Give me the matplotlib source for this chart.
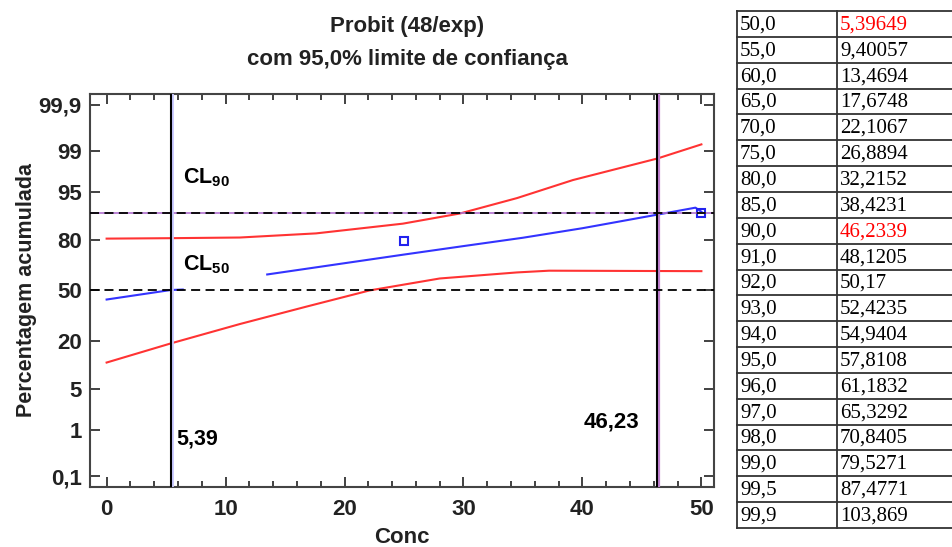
import math
import numpy as np
import matplotlib
matplotlib.use("Agg")
import matplotlib.pyplot as plt

plt.rcParams['font.family'] = ['Liberation Sans', 'DejaVu Sans']
plt.rcParams['mathtext.fontset'] = 'custom'
plt.rcParams['mathtext.rm'] = 'Liberation Sans:bold'
plt.rcParams['mathtext.bf'] = 'Liberation Sans:bold'

# fitted probit line (shown in two pieces, as in the source figure)
fit_x1 = [0, 5.4, 6.4]
fit_y1 = [44.0, 50.3, 50.6]
fit_x2 = [13.5, 20, 25, 30, 35, 40, 46.2, 49.5, 50]
fit_y2 = [60.5, 67.5, 72.5, 77.0, 81.0, 85.0, 89.6, 91.6, 90.5]

# observed points
obs_x = [25, 50]
obs_y = [79.7, 90.0]

# 95% confidence limits
upper_x = [0, 5.4, 11.2, 17.6, 24.9, 29.7, 34.5, 39.2, 46.3, 50]
upper_y = [80.6, 80.8, 81.1, 82.9, 86.7, 90.0, 93.8, 96.7, 98.6, 99.25]
lower_x = [0, 5.4, 11.2, 16.8, 22.1, 28.0, 34.5, 37.2, 50]
lower_y = [11.5, 18.9, 28.8, 39.4, 50.0, 57.9, 61.8, 62.9, 62.6]

cl50 = 5.39
cl90 = 46.23

y_ticks = [0.1, 1, 5, 20, 50, 80, 95, 99, 99.9]
y_labels = ['0,1', '1', '5', '20', '50', '80', '95', '99', '99,9']

tab_p = ['50,0', '55,0', '60,0', '65,0', '70,0', '75,0', '80,0', '85,0', '90,0', '91,0',
         '92,0', '93,0', '94,0', '95,0', '96,0', '97,0', '98,0', '99,0', '99,5', '99,9']
tab_c = ['5,39649', '9,40057', '13,4694', '17,6748', '22,1067', '26,8894', '32,2152', '38,4231',
         '46,2339', '48,1205', '50,17', '52,4235', '54,9404', '57,8108', '61,1832', '65,3292',
         '70,8405', '79,5271', '87,4771', '103,869']
tab_red = [0, 8]


def _ppf(p):
    # Acklam's approximation of the inverse normal cdf
    a = [-3.969683028665376e+01, 2.209460984245205e+02, -2.759285104469687e+02,
         1.383577518672690e+02, -3.066479806614716e+01, 2.506628277459239e+00]
    b = [-5.447609879822406e+01, 1.615858368580409e+02, -1.556989798598866e+02,
         6.680131188771972e+01, -1.328068155288572e+01]
    c = [-7.784894002430293e-03, -3.223964580411365e-01, -2.400758277161838e+00,
         -2.549671010173469e+00, 4.374664141464968e+00, 2.938163982698783e+00]
    d = [7.784695709041462e-03, 3.224671290700398e-01, 2.445134137142996e+00,
         3.754408661907416e+00]
    lo = 0.02425
    if p < lo:
        q = math.sqrt(-2 * math.log(p))
        return (((((c[0]*q+c[1])*q+c[2])*q+c[3])*q+c[4])*q+c[5]) / \
               ((((d[0]*q+d[1])*q+d[2])*q+d[3])*q+1)
    if p > 1 - lo:
        q = math.sqrt(-2 * math.log(1 - p))
        return -(((((c[0]*q+c[1])*q+c[2])*q+c[3])*q+c[4])*q+c[5]) / \
                ((((d[0]*q+d[1])*q+d[2])*q+d[3])*q+1)
    q = p - 0.5
    r = q * q
    return (((((a[0]*r+a[1])*r+a[2])*r+a[3])*r+a[4])*r+a[5])*q / \
           (((((b[0]*r+b[1])*r+b[2])*r+b[3])*r+b[4])*r+1)


_ppf_v = np.vectorize(_ppf, otypes=[float])
_cdf_v = np.vectorize(lambda v: 50.0 * (1 + math.erf(v / math.sqrt(2))), otypes=[float])


def forward(pct):
    pct = np.clip(np.asarray(pct, dtype=float), 1e-9, 100 - 1e-9)
    return _ppf_v(pct / 100.0)


def inverse(z):
    return _cdf_v(np.asarray(z, dtype=float))


fig = plt.figure(figsize=(9.52, 5.47), dpi=100)
ax = fig.add_axes([0.0945, 0.110, 0.656, 0.718])
ax.set_yscale('function', functions=(forward, inverse))

ax.plot(upper_x, upper_y, color='#ff3333', lw=1.5)
ax.plot(lower_x, lower_y, color='#ff3333', lw=1.5)
ax.plot(fit_x1, fit_y1, color='#3333ff', lw=1.5)
ax.plot(fit_x2, fit_y2, color='#3333ff', lw=1.5)
ax.plot(obs_x, obs_y, 's', ms=6, mfc='none', mec='#2222ee', mew=1.5)

ax.axhline(90, color='#b070d0', lw=1.2, zorder=3)
ax.axhline(90, color='black', lw=1.3, dashes=(5, 3), zorder=4)
ax.axhline(50, color='black', lw=1.3, dashes=(5, 3), zorder=4)
ax.axvline(cl50 + 0.12, color='#c8c8ff', lw=2, zorder=3)
ax.axvline(cl50, color='black', lw=1.5, zorder=4)
ax.axvline(cl90 + 0.17, color='#c080d0', lw=1.6, zorder=3)
ax.axvline(cl90, color='black', lw=1.5, zorder=4)

ax.text(6.4, 97.0, r'$\mathbf{CL_{90}}$', fontsize=15.5, va='center', ha='left')
ax.text(6.4, 66.5, r'$\mathbf{CL_{50}}$', fontsize=15.5, va='center', ha='left')
ax.text(5.9, 0.66, '5,39', fontsize=15.5, fontweight='bold', va='center', ha='left')
ax.text(40.1, 1.4, '46,23', fontsize=16, fontweight='bold', va='center', ha='left')

ax.set_xlim(-1.4, 51.1)
ax.set_ylim(float(inverse(-3.27)), float(inverse(3.27)))
ax.set_xticks(range(0, 51, 10))
ax.set_xticks(range(0, 51, 2), minor=True)
ax.set_yticks(y_ticks)
ax.set_yticklabels(y_labels)
ax.yaxis.set_minor_locator(matplotlib.ticker.NullLocator())
ax.tick_params(which='both', direction='in', top=True, right=True, colors='#333333',
               labelcolor='#222222', width=1.3)
ax.tick_params(which='major', length=7, labelsize=16)
ax.tick_params(axis='x', which='major', pad=9)
ax.tick_params(axis='y', which='major', pad=6)
ax.tick_params(which='minor', length=4)
for lab in ax.get_xticklabels() + ax.get_yticklabels():
    lab.set_fontweight('bold')
for s in ax.spines.values():
    s.set_color('#444444')
    s.set_linewidth(1.5)

ax.set_xlabel('Conc', fontsize=16, fontweight='bold', color='#222222', labelpad=5)
ax.set_ylabel('Percentagem acumulada', fontsize=15.5, fontweight='bold', color='#222222', labelpad=1)

fig.text(0.428, 0.952, 'Probit (48/exp)', ha='center', va='center', fontsize=16, fontweight='bold',
         color='#222222')
fig.text(0.428, 0.892, 'com 95,0% limite de confiança', ha='center', va='center', fontsize=16,
         fontweight='bold', color='#222222')

# table on the right, in pixel coordinates
tx = fig.add_axes([0, 0, 1, 1])
tx.set_xlim(0, 952)
tx.set_ylim(547, 0)
tx.axis('off')
top, row_h = 11, 25.85
left, mid = 737, 837
n = len(tab_p)
for i in range(n + 1):
    y = top + i * row_h
    tx.plot([left, 960], [y, y], color='#333333', lw=1.3, clip_on=False)
tx.plot([left, left], [top, top + n * row_h], color='#333333', lw=1.3)
tx.plot([mid, mid], [top, top + n * row_h], color='#333333', lw=1.3)
for i in range(n):
    yc = top + (i + 0.5) * row_h + 1
    col = 'red' if i in tab_red else 'black'
    tx.text(left + 3, yc, tab_p[i], fontsize=15, family='Liberation Serif', va='center', ha='left')
    tx.text(mid + 3, yc, tab_c[i], fontsize=15, family='Liberation Serif', va='center', ha='left',
            color=col)

fig.savefig('out.png', dpi=100)
